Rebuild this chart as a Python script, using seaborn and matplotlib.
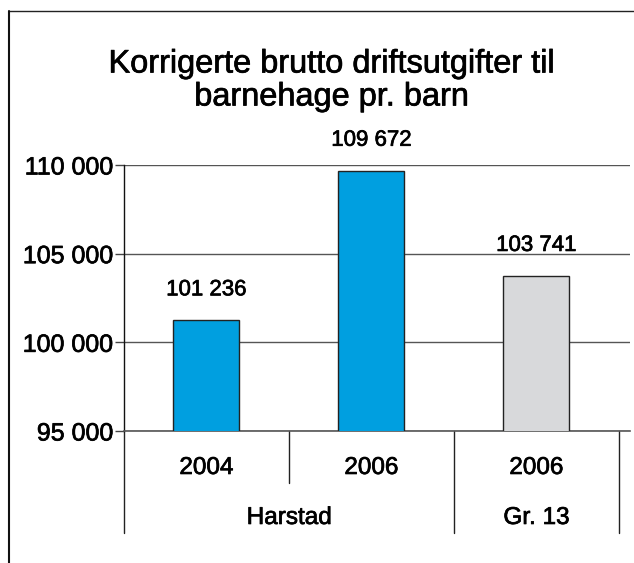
import matplotlib
matplotlib.use("Agg")
import matplotlib.pyplot as plt
import matplotlib.transforms as mtransforms
import matplotlib.patheffects as pe
import pandas as pd
import seaborn as sns

# chart data
years = ["2004", "2006", "2006"]
groups = ["Harstad", "Harstad", "Gr. 13"]
values = [101236, 109672, 103741]
bar_colors = ["#009FE0", "#009FE0", "#D8D9DB"]
y_ticks = [95000, 100000, 105000, 110000]

df = pd.DataFrame({"key": [g + " " + y for g, y in zip(groups, years)],
                   "value": values})

sns.set_style("white")
plt.rcParams["font.family"] = ["Liberation Sans", "DejaVu Sans"]
plt.rcParams["text.color"] = "black"
plt.rcParams["ytick.labelcolor"] = "black"

# slight stroke to mimic the medium weight of the original font
heavy = [pe.withStroke(linewidth=0.5, foreground="black")]

fig = plt.figure(figsize=(6.34, 5.63), dpi=100)
ax = fig.add_axes([124 / 634, 132 / 563, 506 / 634, 266 / 563])

sns.barplot(data=df, x="key", y="value", hue="key", palette=bar_colors,
            legend=False, width=0.4, edgecolor="#222222", linewidth=1,
            saturation=1, ax=ax, zorder=3)

ax.set_ylim(95000, 110000)
ax.set_xlim(-0.5, 2.567)
ax.set_yticks(y_ticks)
ax.set_yticklabels([f"{t:,}".replace(",", " ") for t in y_ticks], fontsize=18)
for lab in ax.get_yticklabels():
    lab.set_path_effects(heavy)
ax.tick_params(axis="y", length=6.5, width=1, color="#444444", pad=1, direction="out", left=True)
ax.set_xticks([])
ax.set_xlabel("")
ax.set_ylabel("")
ax.grid(axis="y", color="#555555", linewidth=1, zorder=0)
ax.set_axisbelow(True)

for side in ["top", "right"]:
    ax.spines[side].set_visible(False)
ax.spines["left"].set_color("#111111")
ax.spines["left"].set_linewidth(1)
ax.spines["bottom"].set_color("#555555")
ax.spines["bottom"].set_linewidth(1.2)

# value labels
for i, v in enumerate(values):
    ax.annotate(f"{v:,}".replace(",", " "), (i, v), xytext=(0, 22),
                textcoords="offset points", ha="center", va="center",
                fontsize=16, annotation_clip=False, path_effects=heavy)

# multi-level category axis
trans = mtransforms.blended_transform_factory(ax.transData, ax.transAxes)
for x0, y1 in [(-0.5, -0.383), (0.5, -0.195), (1.5, -0.383), (2.5, -0.383)]:
    ax.plot([x0, x0], [0, y1], color="#222222", linewidth=1,
            transform=trans, clip_on=False)
for i, y in enumerate(years):
    ax.text(i, -0.139, y, transform=trans, ha="center", va="center",
            fontsize=17.5, path_effects=heavy)
ax.text(0.5, -0.327, "Harstad", transform=trans, ha="center", va="center",
        fontsize=17.5, path_effects=heavy)
ax.text(2, -0.327, "Gr. 13", transform=trans, ha="center", va="center",
        fontsize=17.5, path_effects=heavy)

# title
fig.text(332 / 634, 1 - 81 / 563, "Korrigerte brutto driftsutgifter til\nbarnehage pr. barn",
         ha="center", va="center", fontsize=23.4, linespacing=1.13, path_effects=heavy)

# outer frame (top and left edges)
fig.add_artist(plt.Line2D([9 / 634, 1], [1 - 10.5 / 563, 1 - 10.5 / 563],
                          color="#222222", linewidth=1, transform=fig.transFigure))
fig.add_artist(plt.Line2D([9 / 634, 9 / 634], [0, 1 - 10.5 / 563],
                          color="#111111", linewidth=1.5, transform=fig.transFigure))

fig.savefig("out.png", dpi=100)
